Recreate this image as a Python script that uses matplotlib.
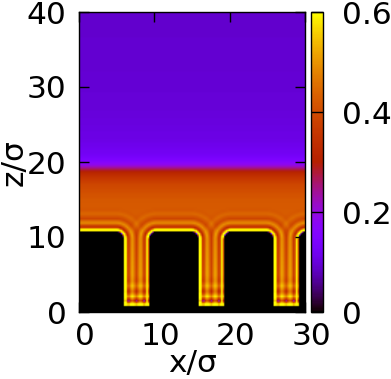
import numpy as np
import matplotlib
matplotlib.use('Agg')
import matplotlib.pyplot as plt
from matplotlib.transforms import ScaledTranslation

# geometry of the corrugated wall, in units of sigma
pillar_left = [-0.7, 9.3, 19.3, 29.3]
pillar_width = 6.55
wall_top = 10.65
pore_floor = 0.67
corner = 1.0

# density far from the wall, read along z
bulk_z = [0, 5, 10, 12, 15, 17, 18, 18.6, 19.1, 19.6, 20.2, 21, 23, 27, 33, 40]
bulk_rho = [0.47, 0.46, 0.44, 0.43, 0.42, 0.39, 0.35, 0.315, 0.26, 0.19, 0.15, 0.125, 0.108, 0.098, 0.093, 0.09]

# density change against distance from a side wall
wall_d = [0, 0.06, 0.12, 0.22, 0.38, 0.48, 0.65, 0.9, 1.2, 1.45, 1.75, 2.4, 2.9, 3.4]
wall_drho = [-0.43, -0.3, 0.12, 0.22, 0.14, 0.0, -0.115, -0.02, 0.065, 0.02, -0.04, 0.018, -0.006, 0.0]

# density change against distance from the pore floor
floor_d = [0, 0.06, 0.12, 0.22, 0.45, 0.73, 1.0, 1.33, 1.65, 2.0, 2.7, 3.4, 4.2]
floor_drho = [-0.43, -0.3, 0.12, 0.2, 0.05, -0.13, -0.03, 0.08, 0.0, -0.06, 0.04, -0.02, 0.0]

z_ticks = [0, 10, 20, 30, 40]
x_ticks = [0, 10, 20, 30]
cbar_ticks = [0, 0.2, 0.4, 0.6]
cbar_labels = ['0', '0.2', '0.4', '0.6']

x = np.arange(0, 30.05, 0.2)
z = np.arange(0, 40.05, 0.2)
X, Z = np.meshgrid(x, z)


def pillar_distance(X, Z, left):
    hw = pillar_width / 2
    dx = np.abs(X - (left + hw)) - (hw - corner)
    dz = Z - (wall_top - corner)
    out = np.hypot(np.maximum(dx, 0), np.maximum(dz, 0))
    return out + np.minimum(np.maximum(dx, dz), 0) - corner


sides = [pillar_distance(X, Z, left) for left in pillar_left]
floor = Z - pore_floor
# layering dies out going up through the film
fade = np.clip((18 - Z) / 3, 0, 1)
fs = sum(np.interp(d, wall_d, wall_drho) for d in sides) * fade
ff = np.interp(floor, floor_d, floor_drho)
rho = np.interp(Z, bulk_z, bulk_rho) + fs + ff - 3 * fs * ff
rho[(np.min(sides, axis=0) <= 0) | (floor <= 0)] = 0
rho = np.clip(rho, 0, 0.6)

plt.rcParams['font.family'] = 'DejaVu Sans'
plt.rcParams['axes.linewidth'] = 1.0

fig = plt.figure(figsize=(3.91, 3.79), dpi=100)
W, H = 391.0, 379.0
ax = fig.add_axes([79 / W, 1 - 312 / H, 226 / W, 300 / H])
im = ax.imshow(rho, origin='lower', extent=[0, 30, 0, 40], aspect='auto', cmap='gnuplot',
               vmin=0, vmax=0.6, interpolation='bilinear')
ax.set_xticks(x_ticks)
ax.set_yticks(z_ticks)
ax.tick_params(direction='in', right=True, top=True, length=7.2, width=1, labelsize=22.5)
ax.tick_params(axis='x', pad=7)
ax.tick_params(axis='y', pad=9)
# the x labels sit a little right of their ticks
shift = ScaledTranslation(6 / 100, 0, fig.dpi_scale_trans)
for lab in ax.get_xticklabels():
    lab.set_transform(lab.get_transform() + shift)
fig.text(193 / W, 1 - 378 / H, 'x/σ', fontsize=22.5, ha='center', va='bottom')
fig.text(14 / W, 1 - 163 / H, 'z/σ', fontsize=22.5, ha='center', va='center', rotation=90)

cax = fig.add_axes([311 / W, 1 - 312 / H, 12 / W, 300 / H])
cb = fig.colorbar(im, cax=cax)
cb.set_ticks(cbar_ticks)
cb.set_ticklabels(cbar_labels)
cb.ax.tick_params(direction='in', length=8.6, width=1, labelsize=22.5, pad=14, right=True)
cb.outline.set_linewidth(1.0)

fig.savefig('out.png', dpi=100)
